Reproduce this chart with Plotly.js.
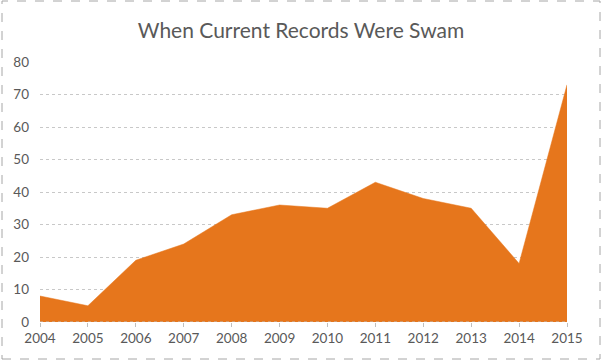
<!DOCTYPE html>
<html><head><meta charset="utf-8">
<script src="https://cdn.plot.ly/plotly-3.0.1.min.js"></script>
<style>body{margin:0;padding:0;background:#fff}#chart{width:602px;height:361px}</style>
</head><body><div id="chart"></div>
<script>
const years = [2004,2005,2006,2007,2008,2009,2010,2011,2012,2013,2014,2015];
const records = [8,5,19,24,33,36,35,43,38,35,18,73];
const yTicks = [0,10,20,30,40,50,60,70,80];

const trace = {
  x: years, y: records, type: 'scatter', mode: 'lines',
  fill: 'tozeroy', fillcolor: '#E6761C',
  line: {color: '#E6761C', width: 0.5}, hoverinfo: 'x+y'
};
const layout = {
  width: 602, height: 361,
  margin: {l: 40, r: 35, t: 62, b: 39},
  paper_bgcolor: '#fff', plot_bgcolor: '#fff',
  title: {text: 'When Current Records Were Swam', x: 0.5, xanchor: 'center', y: 0.915, yanchor: 'middle',
    font: {family: 'Lato, Calibri, sans-serif', size: 21, color: '#595959'}},
  font: {family: 'Lato, Calibri, sans-serif', color: '#595959', size: 13},
  xaxis: {range: [2004, 2015], tickvals: years, ticktext: years.map(String),
    showgrid: false, zeroline: false, showline: false, ticks: 'outside', ticklen: 4,
    tickcolor: '#bfbfbf', tickfont: {size: 13.5, color: '#595959'}},
  yaxis: {range: [0, 80], tickvals: yTicks, ticktext: yTicks.map(String),
    showgrid: true, gridcolor: '#c8c8c8', griddash: 'dot', gridwidth: 1,
    zeroline: false, showline: false, ticks: '', ticklabelstandoff: 10,
    tickfont: {size: 13.5, color: '#595959'}},
  shapes: [
    {type: 'line', xref: 'x', yref: 'y', x0: 2004, x1: 2015, y0: 0, y1: 0,
     line: {color: '#bfbfbf', width: 1, dash: 'dot'}, layer: 'above'},
    {type: 'rect', xref: 'paper', yref: 'paper',
     x0: -38/527, x1: 1 + 33/527, y0: -37/260, y1: 1 + 61/260,
     line: {color: '#a6a6a6', width: 1, dash: 'dash'}}
  ],
  showlegend: false
};
Plotly.newPlot('chart', [trace], layout, {displayModeBar: false, staticPlot: true});
</script></body></html>
